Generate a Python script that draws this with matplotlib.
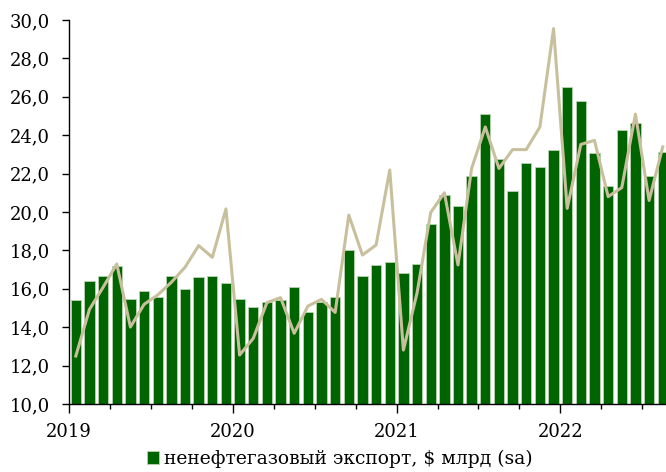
import matplotlib
matplotlib.use("Agg")
import matplotlib.pyplot as plt
import numpy as np
from matplotlib.ticker import FixedLocator, FuncFormatter

# Monthly data, Jan 2019 .. Aug 2022
bars = [15.40, 16.39, 16.65, 17.19, 15.47, 15.89, 15.57, 16.65, 16.00, 16.60, 16.65, 16.30,
        15.47, 15.07, 15.31, 15.43, 16.08, 14.81, 15.33, 15.59, 18.02, 16.68, 17.24, 17.41,
        16.80, 17.27, 19.38, 20.87, 20.30, 21.89, 25.09, 22.74, 21.08, 22.57, 22.33, 23.21,
        26.49, 25.78, 23.07, 21.35, 24.25, 24.64, 21.89, 23.10]
line = [12.50, 14.93, 16.08, 17.29, 14.01, 15.19, 15.68, 16.34, 17.12, 18.25, 17.64, 20.16,
        12.55, 13.42, 15.28, 15.54, 13.68, 15.10, 15.45, 14.77, 19.84, 17.76, 18.28, 22.19,
        12.81, 15.78, 19.97, 21.00, 17.24, 22.27, 24.43, 22.27, 23.25, 23.25, 24.43, 29.55,
        20.19, 23.52, 23.73, 20.80, 21.27, 25.10, 20.60, 23.39]
year_labels = ["2019", "2020", "2021", "2022"]
legend_label = "ненефтегазовый экспорт, $ млрд (sa)"

plt.rcParams['font.family'] = ['DejaVu Serif']
fig = plt.figure(figsize=(6.66, 4.72), dpi=100)
W, H = 666, 472
ax = fig.add_axes([69 / W, (H - 404) / H, (666 - 69) / W, (404 - 20) / H])

x = np.arange(len(bars))
ax.bar(x, bars, width=0.76, color='#006400', edgecolor='#b8d4b0', linewidth=0.6,
       label=legend_label, zorder=2)
ax.plot(x, line, color='#c8c09c', linewidth=2.2, zorder=3)

ax.set_ylim(10, 30)
ax.set_xlim(-0.5, 43.24)
ax.set_yticks(np.arange(10, 30.01, 2))
ax.yaxis.set_major_formatter(FuncFormatter(lambda v, p: f"{v:.1f}".replace('.', ',')))

year_pos = [-0.5 + 12 * i for i in range(len(year_labels))]
ax.set_xticks(year_pos)
ax.set_xticklabels(year_labels)
ax.xaxis.set_minor_locator(FixedLocator([-0.5 + 3 * k for k in range(15)]))

for s in ['top', 'right']:
    ax.spines[s].set_visible(False)
for s in ['left', 'bottom']:
    ax.spines[s].set_color('black')
    ax.spines[s].set_linewidth(1.0)

ax.tick_params(axis='y', which='major', direction='out', length=5, width=1, labelsize=13, pad=9)
ax.tick_params(axis='x', which='major', direction='out', length=6.5, width=1, labelsize=13, pad=7)
ax.tick_params(axis='x', which='minor', direction='out', length=3.5, width=1)

leg = fig.legend(loc='center', bbox_to_anchor=(340 / W, 1 - 459 / H), frameon=False,
                 fontsize=13.5, handlelength=0.65, handleheight=0.65, handletextpad=0.25,
                 borderpad=0)

fig.savefig("out.png", dpi=100)
